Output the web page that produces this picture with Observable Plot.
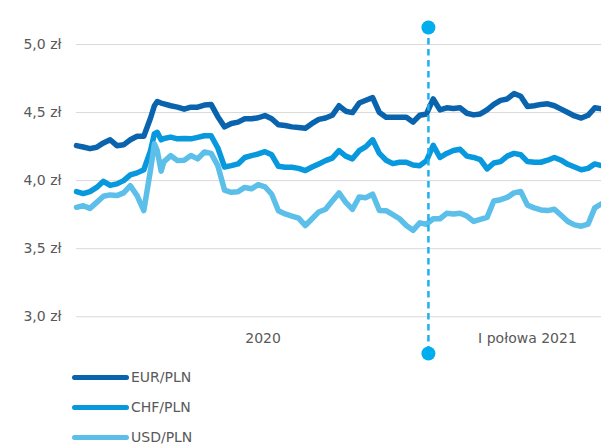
<!DOCTYPE html>
<html>
<head>
<meta charset="utf-8">
<script src="https://cdn.jsdelivr.net/npm/d3@7"></script>
<script src="https://cdn.jsdelivr.net/npm/@observablehq/plot@0.6"></script>
<style>
  html, body { margin: 0; padding: 0; background: #fff; }
  #chart { width: 601px; }
  .legend { font-family: "DejaVu Sans", sans-serif; font-size: 14px; color: #595959; }
  .legend .row { height: 30px; line-height: 30px; display: flex; align-items: center; }
  .legend .sw { display: inline-block; width: 57px; height: 5px; border-radius: 3px; margin-left: 72px; margin-right: 2px; }
</style>
</head>
<body>
<div id="chart"></div>
<script>
const seriesNames = ["EUR/PLN", "CHF/PLN", "USD/PLN"];
const seriesColors = ["#0a64ad", "#0898de", "#5bbfea"];

const dates = ["2020-01-01","2020-01-08","2020-01-15","2020-01-22","2020-01-29","2020-02-05","2020-02-12","2020-02-19","2020-02-26","2020-03-04","2020-03-11","2020-03-18","2020-03-22","2020-03-25","2020-03-29","2020-04-01","2020-04-08","2020-04-15","2020-04-22","2020-04-29","2020-05-06","2020-05-13","2020-05-20","2020-05-27","2020-06-03","2020-06-10","2020-06-17","2020-06-24","2020-07-01","2020-07-08","2020-07-15","2020-07-22","2020-07-29","2020-08-05","2020-08-12","2020-08-19","2020-08-26","2020-09-02","2020-09-09","2020-09-16","2020-09-23","2020-09-30","2020-10-07","2020-10-14","2020-10-21","2020-10-28","2020-11-04","2020-11-11","2020-11-18","2020-11-25","2020-12-02","2020-12-09","2020-12-16","2020-12-23","2020-12-30","2021-01-06","2021-01-13","2021-01-20","2021-01-27","2021-02-03","2021-02-10","2021-02-17","2021-02-24","2021-03-03","2021-03-10","2021-03-17","2021-03-24","2021-03-31","2021-04-07","2021-04-14","2021-04-21","2021-04-28","2021-05-05","2021-05-12","2021-05-19","2021-05-26","2021-06-02","2021-06-09","2021-06-16","2021-06-23","2021-06-30"];

const eur = [4.257,4.247,4.235,4.245,4.277,4.30,4.257,4.263,4.30,4.326,4.326,4.46,4.55,4.581,4.57,4.564,4.55,4.54,4.525,4.54,4.54,4.555,4.56,4.47,4.395,4.42,4.43,4.454,4.454,4.462,4.478,4.455,4.41,4.405,4.395,4.39,4.385,4.42,4.45,4.46,4.48,4.55,4.51,4.50,4.57,4.59,4.61,4.50,4.465,4.465,4.465,4.465,4.43,4.48,4.49,4.60,4.52,4.535,4.53,4.535,4.495,4.483,4.49,4.52,4.56,4.59,4.60,4.64,4.62,4.545,4.55,4.56,4.564,4.55,4.525,4.50,4.475,4.46,4.48,4.535,4.527];

const chf = [3.919,3.905,3.919,3.95,3.995,3.965,3.976,4.0,4.042,4.057,4.08,4.22,4.345,4.355,4.30,4.31,4.32,4.307,4.31,4.307,4.318,4.33,4.33,4.24,4.10,4.11,4.123,4.17,4.184,4.196,4.213,4.19,4.105,4.098,4.098,4.09,4.074,4.10,4.123,4.147,4.165,4.22,4.18,4.16,4.22,4.25,4.30,4.20,4.15,4.125,4.135,4.135,4.115,4.11,4.147,4.26,4.17,4.20,4.221,4.23,4.18,4.17,4.155,4.086,4.13,4.14,4.18,4.20,4.19,4.14,4.135,4.135,4.15,4.17,4.15,4.12,4.10,4.08,4.09,4.123,4.11];

const usd = [3.804,3.816,3.796,3.84,3.885,3.895,3.89,3.91,3.963,3.89,3.78,4.08,4.27,4.22,4.07,4.14,4.184,4.147,4.15,4.184,4.16,4.21,4.20,4.11,3.93,3.914,3.919,3.95,3.94,3.97,3.955,3.90,3.779,3.755,3.74,3.725,3.67,3.72,3.77,3.79,3.85,3.91,3.84,3.79,3.88,3.875,3.90,3.78,3.779,3.75,3.72,3.67,3.635,3.69,3.68,3.72,3.72,3.76,3.755,3.76,3.74,3.70,3.715,3.73,3.85,3.86,3.877,3.91,3.92,3.82,3.80,3.785,3.78,3.79,3.745,3.70,3.675,3.665,3.68,3.80,3.83];

const yTicks = [3.0, 3.5, 4.0, 4.5, 5.0];
const xLabelDates = ["2020-07-13", "2021-04-14"];
const xLabelTexts = ["2020", "I połowa 2021"];
const markerDate = "2021-01-01";
const xStart = "2020-01-01";
const xEnd = "2021-06-30";

const valuesBySeries = [eur, chf, usd];
const rows = seriesNames.flatMap((name, si) =>
  dates.map((d, i) => ({series: name, date: new Date(d), value: valuesBySeries[si][i]}))
);
const xLabels = xLabelDates.map((d, i) => ({date: new Date(d), text: xLabelTexts[i]}));
const marker = [new Date(markerDate)];

const fmt = d => d.toFixed(1).replace(".", ",") + " zł";
const markerColor = "#1fb1ee";

const chart = Plot.plot({
  width: 601,
  height: 362,
  marginLeft: 76,
  marginRight: 0,
  marginTop: 27,
  marginBottom: 9,
  style: {fontFamily: "DejaVu Sans, sans-serif", fontSize: "14px", color: "#595959", background: "#fff", overflow: "visible"},
  x: {type: "utc", domain: [new Date(xStart), new Date(xEnd)], axis: null},
  y: {domain: [2.73, 5.125], axis: null},
  color: {domain: seriesNames, range: seriesColors},
  marks: [
    Plot.gridY(yTicks, {stroke: "#d9d9d9", strokeOpacity: 1, strokeWidth: 1}),
    Plot.axisY(yTicks, {label: null, tickSize: 0, tickPadding: 15, tickFormat: fmt, fill: "#595959", fontSize: 14}),
    Plot.line(rows, {x: "date", y: "value", z: "series", stroke: "series", strokeWidth: 5.5, strokeLinejoin: "round", strokeLinecap: "round"}),
    Plot.ruleX(marker, {x: d => d, stroke: markerColor, strokeWidth: 2.5, strokeDasharray: "6.5,4.5"}),
    Plot.dot(marker, {x: d => d, frameAnchor: "top", r: 7, fill: "#00aeef", stroke: "none"}),
    Plot.dot(marker, {x: d => d, frameAnchor: "bottom", r: 7, fill: "#00aeef", stroke: "none"}),
    Plot.text(xLabels, {x: "date", text: "text", frameAnchor: "bottom", dy: -15, lineAnchor: "middle", fill: "#595959", fontSize: 14})
  ]
});

const root = document.getElementById("chart");
root.appendChild(chart);

const legend = document.createElement("div");
legend.className = "legend";
seriesNames.forEach((name, i) => {
  const row = document.createElement("div");
  row.className = "row";
  const sw = document.createElement("span");
  sw.className = "sw";
  sw.style.background = seriesColors[i];
  const label = document.createElement("span");
  label.textContent = name;
  row.appendChild(sw);
  row.appendChild(label);
  legend.appendChild(row);
});
root.appendChild(legend);
</script>
</body>
</html>
